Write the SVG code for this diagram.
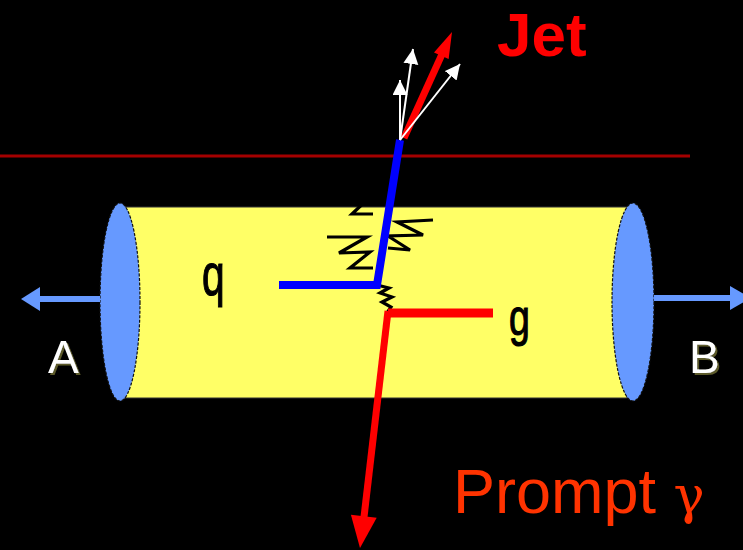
<svg xmlns="http://www.w3.org/2000/svg" width="743" height="550" viewBox="0 0 743 550">
  <style>
    .cap { fill: #6699ff; stroke: #111; stroke-width: 1.2; stroke-dasharray: 3 1.5; }
    .beam { stroke: #6699ff; stroke-width: 6; fill: none; }
    .beamhead { fill: #6699ff; }
    .spring { fill: none; stroke: #000; stroke-width: 3.2; stroke-linejoin: miter; }
    .track { fill: none; stroke: #fff; stroke-width: 2; }
    .lbl { font-family: "Liberation Sans", Arial, sans-serif; }
    .beamlbl { font-size: 46px; fill: #fff; filter: url(#olive); }
    .parton { font-size: 60px; fill: #000; stroke: #000; stroke-width: 1.2; }
  </style>
  <defs>
    <marker id="whiteHead" markerUnits="userSpaceOnUse" markerWidth="16" markerHeight="16" refX="15" refY="7.5" orient="auto">
      <path d="M0,0 L15,7.5 L0,15 z" fill="#fff"/>
    </marker>
    <!-- soft olive offset behind the beam letters -->
    <filter id="olive" x="-20%" y="-20%" width="150%" height="150%">
      <feOffset in="SourceAlpha" dx="2" dy="2" result="off"/>
      <feFlood flood-color="#5c5a2a"/>
      <feComposite in2="off" operator="in" result="sh"/>
      <feMerge>
        <feMergeNode in="sh"/>
        <feMergeNode in="SourceGraphic"/>
      </feMerge>
    </filter>
  </defs>

  <rect width="743" height="550" fill="#000"/>

  <!-- reference plane -->
  <line x1="0" y1="156" x2="690" y2="156" stroke="#a40000" stroke-width="3"/>

  <!-- colliding system: cylinder with end caps and beam directions -->
  <g id="cylinder">
    <rect x="120" y="207" width="507" height="191" fill="#ffff66" stroke="#333" stroke-width="1"/>
    <ellipse class="cap" cx="120" cy="302" rx="20" ry="99"/>
    <ellipse class="cap" cx="633" cy="302" rx="21" ry="99"/>
  </g>

  <g id="beamA">
    <line class="beam" x1="100" y1="299" x2="38" y2="299"/>
    <polygon class="beamhead" points="21,299 40,287 40,311"/>
    <text class="lbl beamlbl" x="48" y="373">A</text>
  </g>

  <g id="beamB">
    <line class="beam" x1="654" y1="298" x2="732" y2="298"/>
    <polygon class="beamhead" points="751,298 730,286 730,310"/>
    <text class="lbl beamlbl" x="689" y="373">B</text>
  </g>

  <!-- gluon springs -->
  <g id="gluons">
    <polyline class="spring" points="327,183 368,183 340,195 372,195 352,214 373,214"/>
    <polyline class="spring" points="327,237 367,237 339,253 370,252 350,268 373,268"/>
    <polyline class="spring" points="433,220 397,222 423,235 388,236 410,250 388,248"/>
    <polyline class="spring" points="377,285 389,288 380,293 392,297 382,302 391,307 387,313"/>
  </g>

  <g id="connectors">
    <!-- incoming quark and outgoing jet parton -->
    <polyline points="279,285 377,285 400,140" fill="none" stroke="#0000ff" stroke-width="8" stroke-linejoin="miter"/>
    <!-- gluon line -->
    <polyline points="493,313 388,313" fill="none" stroke="#ff0000" stroke-width="9"/>
    <!-- prompt photon -->
    <line x1="388" y1="311" x2="364" y2="517" stroke="#ff0000" stroke-width="7"/>
    <polygon points="360,548 350.9,514.7 376.7,517.7" fill="#ff0000"/>
    <!-- jet axis -->
    <line x1="404" y1="138" x2="443" y2="52" stroke="#ff0000" stroke-width="7"/>
    <polygon points="452,32 448.6,59 434,52.4" fill="#ff0000"/>
    <!-- jet fragments -->
    <line class="track" x1="400" y1="140" x2="400" y2="80" marker-end="url(#whiteHead)"/>
    <line class="track" x1="400" y1="140" x2="413" y2="49" marker-end="url(#whiteHead)"/>
    <line class="track" x1="400" y1="140" x2="460" y2="64" marker-end="url(#whiteHead)"/>
  </g>

  <g id="labels">
    <text class="lbl parton" transform="translate(202,295) scale(0.68,1)">q</text>
    <text class="lbl parton" style="font-size:52px" transform="translate(509,335) scale(0.72,1)">g</text>
    <text class="lbl" x="497" y="56" font-size="62" font-weight="bold" fill="#ff0000">Jet</text>
    <text class="lbl" x="453" y="513" font-size="63" fill="#ff3300">Prompt <tspan font-family="'DejaVu Serif', serif" font-size="52">γ</tspan></text>
  </g>
</svg>
